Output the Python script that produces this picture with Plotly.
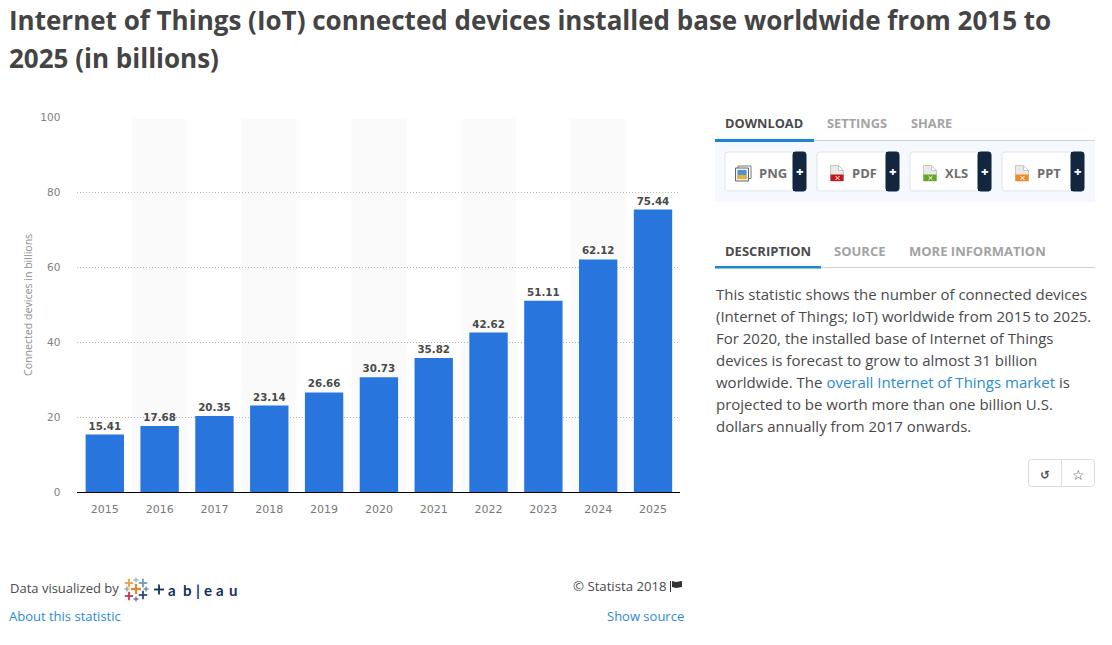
import plotly.graph_objects as go

years = ["2015","2016","2017","2018","2019","2020","2021","2022","2023","2024","2025"]
devices = [15.41,17.68,20.35,23.14,26.66,30.73,35.82,42.62,51.11,62.12,75.44]
y_ticks = [0,20,40,60,80,100]
title_lines = ["Internet of Things (IoT) connected devices installed base worldwide from 2015 to","2025 (in billions)"]
y_title = "Connected devices in billions"
desc_lines = [
 "This statistic shows the number of connected devices",
 "(Internet of Things; IoT) worldwide from 2015 to 2025.",
 "For 2020, the installed base of Internet of Things",
 "devices is forecast to grow to almost 31 billion",
 "worldwide. The <span style='color:#2b8bd0'>overall Internet of Things market</span> is",
 "projected to be worth more than one billion U.S.",
 "dollars annually from 2017 onwards."]
formats = ["PNG","PDF","XLS","PPT"]

W,H = 1112,645
FONT = "Open Sans"
px = lambda x: x/W
py = lambda y: 1-y/H
shapes=[]; ann=[]

def text(x,y,s,size=13,color="#444",weight=400,anchor="left",family=FONT,angle=0):
    ann.append(dict(xref="paper",yref="paper",x=px(x-1 if anchor=="left" else x),y=py(y),text=s,showarrow=False,xanchor=anchor,yanchor="middle",
        align=anchor,textangle=angle,borderpad=0,font=dict(family=family,size=size,color=color,weight=weight)))

def rect(x0,y0,x1,y1,fill,line=None,layer="above"):
    shapes.append(dict(type="rect",xref="paper",yref="paper",x0=px(x0),x1=px(x1),y0=py(y0),y1=py(y1),
        fillcolor=fill,line=dict(color=line or "rgba(0,0,0,0)",width=1 if line else 0),layer=layer))

def poly(pts,fill=None,line=None,width=1,close=True):
    path="M "+" L ".join(f"{px(a):.5f},{py(b):.5f}" for a,b in pts)+(" Z" if close else "")
    shapes.append(dict(type="path",xref="paper",yref="paper",path=path,fillcolor=fill or "rgba(0,0,0,0)",
        line=dict(color=line or "rgba(0,0,0,0)",width=width if line else 0)))

def rrect(x0,y0,x1,y1,r,fill,line):
    path=(f"M {px(x0+r):.5f},{py(y0):.5f} L {px(x1-r):.5f},{py(y0):.5f} Q {px(x1):.5f},{py(y0):.5f} {px(x1):.5f},{py(y0+r):.5f} "
          f"L {px(x1):.5f},{py(y1-r):.5f} Q {px(x1):.5f},{py(y1):.5f} {px(x1-r):.5f},{py(y1):.5f} "
          f"L {px(x0+r):.5f},{py(y1):.5f} Q {px(x0):.5f},{py(y1):.5f} {px(x0):.5f},{py(y1-r):.5f} "
          f"L {px(x0):.5f},{py(y0+r):.5f} Q {px(x0):.5f},{py(y0):.5f} {px(x0+r):.5f},{py(y0):.5f} Z")
    shapes.append(dict(type="path",xref="paper",yref="paper",path=path,fillcolor=fill,line=dict(color=line,width=1)))

def cross(cx,cy,r,color,w=1.6):
    poly([(cx-r,cy),(cx+r,cy)],line=color,width=w,close=False)
    poly([(cx,cy-r),(cx,cy+r)],line=color,width=w,close=False)

# alternating chart bands
for i,_ in enumerate(years):
    if i%2==1:
        shapes.append(dict(type="rect",xref="x",yref="paper",x0=i-0.5,x1=i+0.5,y0=py(492),y1=py(119),
            fillcolor="#fafafa",line=dict(width=0),layer="below"))

# title
text(9,20,title_lines[0],size=26,weight=700,color="#444")
text(9,58,title_lines[1],size=26,weight=700,color="#444")

# top tabs
text(725,123.5,"DOWNLOAD",size=12.8,weight=700,color="#4a4a4a")
text(827,123.5,"SETTINGS",size=12.8,weight=700,color="#a3a3a3")
text(911,123.5,"SHARE",size=12.8,weight=700,color="#a3a3a3")
rect(715,141,1095,202,"#f5f9fd")
rect(715,140,1095,141,"#cfd3d6")
rect(715,139,814,142,"#1a86d0")

btn=[(725,806,793,759),(817,899,886,852),(910,991,978,945),(1002,1084,1071,1037)]
icon_col=[None,"#c4161c","#63a81e","#f08a24"]
for (x0,x1,xd,xt),f,col in zip(btn,formats,icon_col):
    rrect(x0,152,x1,191,3,"#ffffff","#dfe4ea")
    rrect(xd,152,x1,191,2.5,"#12263f","#12263f")
    rect(xd,152,xd+4,191,"#12263f")
    text(xd+6.5,170.5,"+",size=13,weight=800,color="#ffffff",anchor="center")
    text(xt,173,f,size=13,weight=700,color="#6e6e6e")
    if col is None:
        rect(738,166,751,178.5,"#ffffff","#777777")
        rect(735.5,168,748.5,181,"#f0f0f0","#666666")
        rect(737.5,170,746.5,179,"#4d94cf")
        rect(737.5,175,746.5,179,"#e8b23a")
    else:
        ix=xt-21.5
        poly([(ix,165.5),(ix+8,165.5),(ix+13,170.5),(ix+13,181),(ix,181)],fill="#e9e9e9",line="#c8c8c8")
        poly([(ix+8,165.5),(ix+8,170.5),(ix+13,170.5)],fill="#ffffff",line="#c8c8c8")
        rect(ix,174.5,ix+13,181,col)
        poly([(ix+5,176),(ix+9,180)],line="#ffffff",close=False)
        poly([(ix+9,176),(ix+5,180)],line="#ffffff",close=False)

# second tabs
text(725,250.5,"DESCRIPTION",size=13,weight=700,color="#4a4a4a")
text(834,250.5,"SOURCE",size=13,weight=700,color="#a3a3a3")
text(908.5,250.5,"MORE INFORMATION",size=13,weight=700,color="#a3a3a3")
rect(715,267,1095,268,"#cfd3d6")
rect(715,266,821,268.5,"#1a86d0")
for i,l in enumerate(desc_lines):
    text(716,294+22*i,l,size=15,color="#4a4a4a")

# small buttons
rrect(1028.5,459.5,1094.5,486.5,3,"#ffffff","#dcdcdc")
poly([(1061.5,459.5),(1061.5,486.5)],line="#dcdcdc",close=False)
text(1045,474.5,"\u21ba",size=12,color="#555",anchor="center",family="DejaVu Sans",weight=700)
text(1078,474.5,"\u2606",size=14,color="#444",anchor="center",family="DejaVu Sans")

# footer
text(10,588,"Data visualized by",size=13,color="#4a4a4a")
text(9,616,"About this statistic",size=13,color="#2b8bd0")
text(572.5,586,"© Statista 2018",size=13.2,color="#4a4a4a")
text(607,616,"Show source",size=13,color="#2b8bd0")
poly([(670.5,581),(670.5,592)],line="#333",width=1,close=False)
poly([(672,581),(676,582),(682,581),(682,587),(676,588),(672,587)],fill="#333")

# tableau logo
cross(136,589,5,"#e8862b",2.2)
cross(129,583,4.2,"#e9a23b",1.8)
cross(143,583,4.2,"#6f9bb0",1.8)
cross(136,580,2.6,"#8fb1b8",1.2)
cross(127,589,2.6,"#8d9aa6",1.2)
cross(146,589,2.6,"#5d7f9e",1.2)
cross(129,596,4.2,"#c8394a",1.8)
cross(143,595,4.2,"#2f4a78",1.8)
cross(136,599,2.6,"#6a5a92",1.2)
cross(159,589.5,5,"#12305e",1.8)
for x,c in zip([172,187,197.5,208,220,233],"abIeau"):
    text(x,590,"|" if c=="I" else c,size=15,color="#12305e",anchor="center",family="Lato",weight=700)

fig=go.Figure(go.Bar(x=years,y=devices,marker=dict(color="#2876dd",line=dict(width=0)),width=0.7,
    text=[f"{v:.2f}" for v in devices],textposition="outside",cliponaxis=False,
    textfont=dict(family="DejaVu Sans",size=10.3,color="#4a4a4a",weight=700),hoverinfo="skip"))
fig.update_layout(width=W,height=H,margin=dict(l=0,r=0,t=0,b=0),paper_bgcolor="#fff",plot_bgcolor="rgba(0,0,0,0)",
    showlegend=False,shapes=shapes,annotations=ann,
    xaxis=dict(domain=[px(77.4),px(680.4)],type="category",categoryorder="array",categoryarray=years,automargin=False,
        showline=True,linecolor="#000",linewidth=1,ticks="",ticklabelstandoff=6,
        tickfont=dict(family="DejaVu Sans",size=11,color="#777"),showgrid=False,fixedrange=True),
    yaxis=dict(domain=[py(492.4),py(117.4)],range=[0,100],tickvals=y_ticks,griddash="1px,2px",gridcolor="#b5b5b5",gridwidth=1,automargin=False,
        zeroline=False,ticks="",ticklabelstandoff=16,tickfont=dict(family="DejaVu Sans",size=10.5,color="#808080"),fixedrange=True,
        title=dict(text=y_title,standoff=5,font=dict(family=FONT,size=10.6,color="#8f8f8f"))))
fig.write_html("out.html",post_script="document.body.style.margin='0';",config=dict(displayModeBar=False))
